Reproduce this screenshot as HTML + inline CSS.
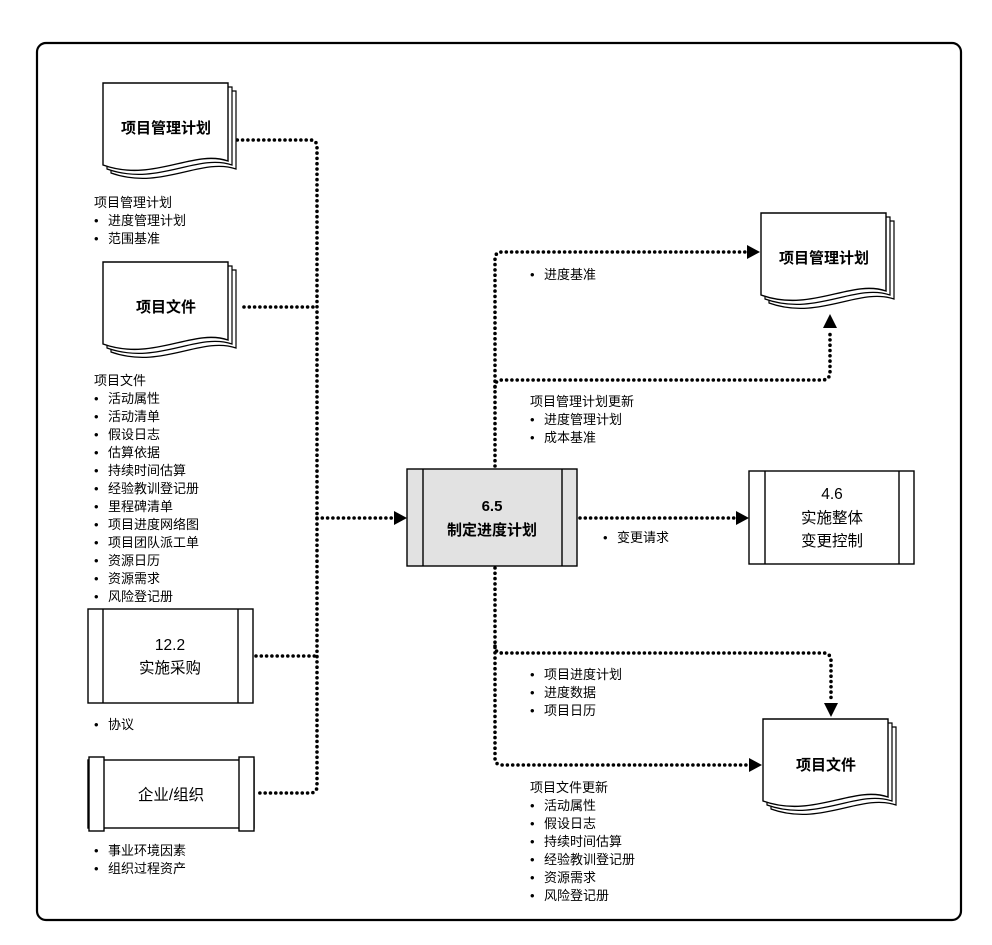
<!DOCTYPE html>
<html><head><meta charset="utf-8"><style>
html,body{margin:0;padding:0;background:#fff;}
svg text{font-family:"Liberation Sans","Noto Sans CJK SC",sans-serif;fill:#000;}
.l{font-size:13px;}
.t{font-size:15px;font-weight:bold;}
.n{font-size:15.5px;}
.d{fill:none;stroke:#000;stroke-width:3.6;stroke-linecap:round;stroke-dasharray:0 5.3;}
</style></head><body>
<svg width="992" height="940" viewBox="0 0 992 940" xmlns="http://www.w3.org/2000/svg">
<defs>
<g id="doc">
<path d="M8 8 H133 V86 C98 74 58 108 8 90 Z" fill="#fff" stroke="#000" stroke-width="1.2"/>
<path d="M4 4 H129 V82 C94 70 54 104 4 86 Z" fill="#fff" stroke="#000" stroke-width="1.2"/>
<path d="M0 0 H125 V78 C90 66 50 100 0 82 Z" fill="#fff" stroke="#000" stroke-width="1.4"/>
</g>
</defs>
<rect x="37" y="43" width="924" height="877" rx="9" fill="#fff" stroke="#000" stroke-width="2.2"/>

<path class="d" d="M232,140 H310 Q317,140 317,147 V786 Q317,793 310,793 H258"/>
<path class="d" d="M244,307 H317"/>
<path class="d" d="M256,656 H317"/>
<path class="d" d="M317,518 H392"/>
<polygon points="394,511 407,518 394,525" fill="#000"/>

<path class="d" d="M495,466 V259 Q495,252 502,252 H746"/>
<polygon points="747,245 760,252 747,259" fill="#000"/>
<path class="d" d="M495,387 Q495,380 502,380 H822 Q830,380 830,372 V330"/>
<polygon points="823,328 830,314 837,328" fill="#000"/>
<path class="d" d="M580,518 H735"/>
<polygon points="736,511 749,518 736,525" fill="#000"/>
<path class="d" d="M495,568 V758 Q495,765 502,765 H748"/>
<polygon points="749,758 762,765 749,772" fill="#000"/>
<path class="d" d="M495,646 Q495,653 502,653 H823 Q831,653 831,661 V702"/>
<polygon points="824,703 831,717 838,703" fill="#000"/>

<use href="#doc" x="103" y="83"/>
<text class="t" x="166" y="133" text-anchor="middle">项目管理计划</text>
<use href="#doc" x="103" y="262"/>
<text class="t" x="166" y="312" text-anchor="middle">项目文件</text>
<use href="#doc" x="761" y="213"/>
<text class="t" x="824" y="263" text-anchor="middle">项目管理计划</text>
<use href="#doc" x="763" y="719"/>
<text class="t" x="826" y="770" text-anchor="middle">项目文件</text>

<rect x="88" y="609" width="165" height="94" fill="#fff" stroke="#000" stroke-width="1.4"/>
<line x1="103" y1="609" x2="103" y2="703" stroke="#000" stroke-width="1.4"/>
<line x1="238" y1="609" x2="238" y2="703" stroke="#000" stroke-width="1.4"/>
<text class="n" x="170" y="650" text-anchor="middle">12.2</text>
<text class="n" x="170" y="673" text-anchor="middle">实施采购</text>

<rect x="88" y="760" width="166" height="68" fill="#fff" stroke="#000" stroke-width="1.4"/>
<rect x="89" y="757" width="15" height="74" fill="#fff" stroke="#000" stroke-width="1.4"/>
<rect x="239" y="757" width="15" height="74" fill="#fff" stroke="#000" stroke-width="1.4"/>
<text class="n" x="171" y="800" text-anchor="middle">企业/组织</text>

<rect x="407" y="469" width="170" height="97" fill="#e2e2e2" stroke="#000" stroke-width="1.4"/>
<line x1="423" y1="469" x2="423" y2="566" stroke="#000" stroke-width="1.4"/>
<line x1="562" y1="469" x2="562" y2="566" stroke="#000" stroke-width="1.4"/>
<text class="t" x="492" y="511" text-anchor="middle">6.5</text>
<text class="t" x="492" y="535" text-anchor="middle">制定进度计划</text>

<rect x="749" y="471" width="165" height="93" fill="#fff" stroke="#000" stroke-width="1.4"/>
<line x1="765" y1="471" x2="765" y2="564" stroke="#000" stroke-width="1.4"/>
<line x1="899" y1="471" x2="899" y2="564" stroke="#000" stroke-width="1.4"/>
<text class="n" x="832" y="499" text-anchor="middle">4.6</text>
<text class="n" x="832" y="523" text-anchor="middle">实施整体</text>
<text class="n" x="832" y="546" text-anchor="middle">变更控制</text>

<g class="l">
<text x="94" y="207">项目管理计划</text>
<text x="94" y="225">•</text><text x="108" y="225">进度管理计划</text>
<text x="94" y="243">•</text><text x="108" y="243">范围基准</text>
<text x="94" y="385">项目文件</text>
<text x="94" y="403">•</text><text x="108" y="403">活动属性</text>
<text x="94" y="421">•</text><text x="108" y="421">活动清单</text>
<text x="94" y="439">•</text><text x="108" y="439">假设日志</text>
<text x="94" y="457">•</text><text x="108" y="457">估算依据</text>
<text x="94" y="475">•</text><text x="108" y="475">持续时间估算</text>
<text x="94" y="493">•</text><text x="108" y="493">经验教训登记册</text>
<text x="94" y="511">•</text><text x="108" y="511">里程碑清单</text>
<text x="94" y="529">•</text><text x="108" y="529">项目进度网络图</text>
<text x="94" y="547">•</text><text x="108" y="547">项目团队派工单</text>
<text x="94" y="565">•</text><text x="108" y="565">资源日历</text>
<text x="94" y="583">•</text><text x="108" y="583">资源需求</text>
<text x="94" y="601">•</text><text x="108" y="601">风险登记册</text>
<text x="94" y="729">•</text><text x="108" y="729">协议</text>
<text x="94" y="855">•</text><text x="108" y="855">事业环境因素</text>
<text x="94" y="873">•</text><text x="108" y="873">组织过程资产</text>

<text x="530" y="279">•</text><text x="544" y="279">进度基准</text>
<text x="530" y="406">项目管理计划更新</text>
<text x="530" y="424">•</text><text x="544" y="424">进度管理计划</text>
<text x="530" y="442">•</text><text x="544" y="442">成本基准</text>
<text x="603" y="542">•</text><text x="617" y="542">变更请求</text>
<text x="530" y="679">•</text><text x="544" y="679">项目进度计划</text>
<text x="530" y="697">•</text><text x="544" y="697">进度数据</text>
<text x="530" y="715">•</text><text x="544" y="715">项目日历</text>
<text x="530" y="792">项目文件更新</text>
<text x="530" y="810">•</text><text x="544" y="810">活动属性</text>
<text x="530" y="828">•</text><text x="544" y="828">假设日志</text>
<text x="530" y="846">•</text><text x="544" y="846">持续时间估算</text>
<text x="530" y="864">•</text><text x="544" y="864">经验教训登记册</text>
<text x="530" y="882">•</text><text x="544" y="882">资源需求</text>
<text x="530" y="900">•</text><text x="544" y="900">风险登记册</text>
</g>
</svg>
</body></html>
